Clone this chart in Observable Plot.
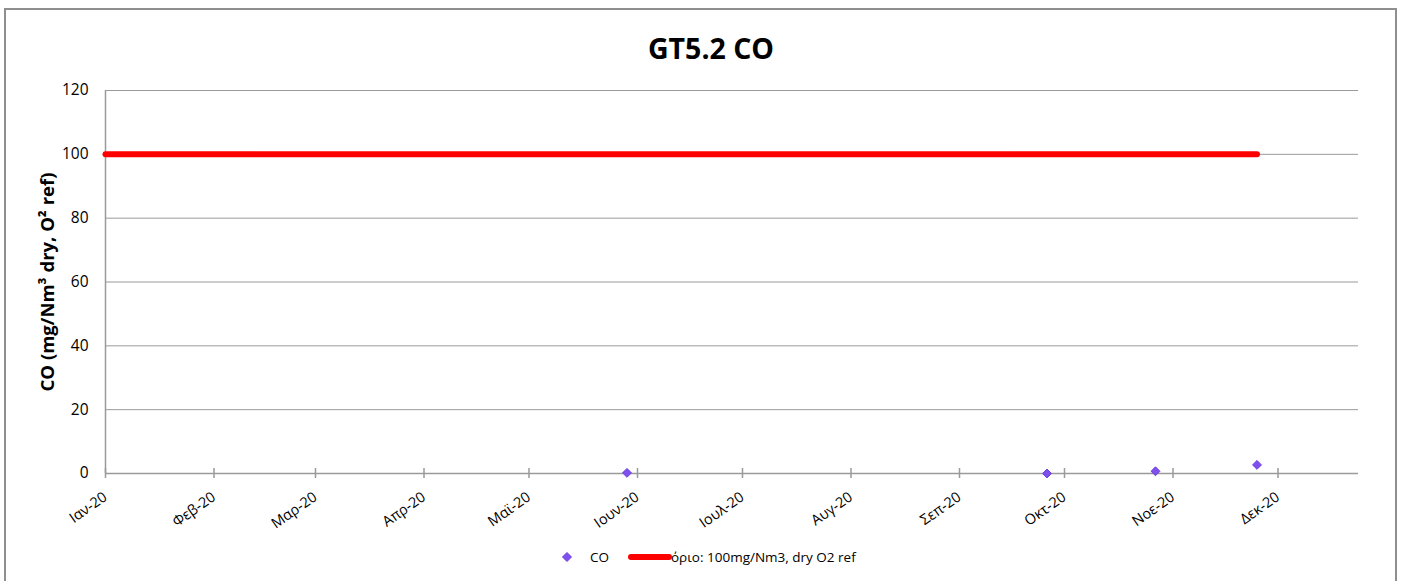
<!DOCTYPE html>
<html>
<head>
<meta charset="utf-8">
<script src="https://cdn.jsdelivr.net/npm/d3@7"></script>
<script src="https://cdn.jsdelivr.net/npm/@observablehq/plot@0.6"></script>
<style>
  html, body { margin: 0; padding: 0; background: #fff; }
  body { width: 1402px; height: 581px; position: relative; overflow: hidden; font-family: "Open Sans", sans-serif; }
  #frame { position: absolute; left: 4px; top: 8px; width: 1393px; height: 620px; border: 2px solid #8f8f8f; box-sizing: border-box; }
  #title { position: absolute; left: 10px; width: 1402px; top: 28px; text-align: center; font-size: 28.5px; font-weight: bold; color: #000; line-height: 40px; }
  #chart { position: absolute; left: 0; top: 70px; }
  #legend { position: absolute; top: 547px; left: 0; width: 1402px; height: 20px; font-size: 13.5px; color: #000; }
  #legend .item { position: absolute; top: 0; line-height: 20px; white-space: nowrap; }
</style>
</head>
<body>
<div id="frame"></div>
<div id="title">GT5.2 CO</div>
<div id="chart"></div>
<div id="legend">
  <svg class="item" style="left:561px; top:4px" width="12" height="12"><path d="M6,1.5L10.5,6L6,10.5L1.5,6Z" fill="#7f4ff0" stroke="#6b3fd9" stroke-width="1"/></svg>
  <span class="item" style="left:590px">CO</span>
  <svg class="item" style="left:628px; top:6px" width="44" height="8"><line x1="3" y1="4" x2="41" y2="4" stroke="#ff0000" stroke-width="6" stroke-linecap="round"/></svg>
  <span class="item" style="left:671px">όριο: 100mg/Nm3, dry O2 ref</span>
</div>
<script>
// ---- data ----
const monthLabels = ["Ιαν-20","Φεβ-20","Μαρ-20","Απρ-20","Μαϊ-20","Ιουν-20","Ιουλ-20","Αυγ-20","Σεπ-20","Οκτ-20","Νοε-20","Δεκ-20"];
const tickDateStrings = ["2020-01-01","2020-02-01","2020-03-01","2020-04-01","2020-05-01","2020-06-01","2020-07-01","2020-08-01","2020-09-01","2020-10-01","2020-11-01","2020-12-01"];
const coDates = ["2020-05-29","2020-09-26","2020-10-27","2020-11-25"];
const coValues = [0.2, 0, 0.7, 2.7];
const limitDates = ["2020-01-01","2020-11-25"];
const limitValues = [100, 100];
const yTicks = [0, 20, 40, 60, 80, 100, 120];
const xDomainStrings = ["2020-01-01","2020-12-24"];
const yLabel = "CO (mg/Nm³ dry, O² ref)";

const parse = s => new Date(s + "T00:00:00Z");
const tickDates = tickDateStrings.map(parse);
const co = coDates.map((d, i) => ({date: parse(d), value: coValues[i]}));
const limit = limitDates.map((d, i) => ({date: parse(d), value: limitValues[i]}));
const gridColor = "#9a9a9a";

const chart = Plot.plot({
  width: 1402,
  height: 470,
  marginLeft: 105,
  marginRight: 44,
  marginTop: 20,
  marginBottom: 67,
  style: {fontFamily: "'Open Sans', sans-serif", fontSize: "15px", color: "#000", background: "transparent"},
  x: {type: "utc", domain: xDomainStrings.map(parse)},
  y: {domain: [0, 120]},
  marks: [
    Plot.gridY(yTicks, {stroke: gridColor, strokeOpacity: 1, strokeWidth: 1}),
    Plot.ruleX([parse(xDomainStrings[0])], {stroke: gridColor, strokeWidth: 1.5}),
    Plot.ruleY([0], {stroke: gridColor, strokeWidth: 1.5}),
    Plot.axisY(yTicks, {tickSize: 0, tickPadding: 17, fontSize: 15.5, label: yLabel, labelAnchor: "center", labelArrow: "none", labelOffset: 65}),
    Plot.axisX(tickDates, {tickSize: 10, dy: -5, stroke: gridColor, strokeWidth: 1.5, tickFormat: () => "", label: null}),
    Plot.axisX(tickDates, {tickSize: 0, tickPadding: 22, tickRotate: -35, fontSize: 14.5, tickFormat: d => monthLabels[d.getUTCMonth()], label: null}),
    Plot.line(limit, {x: "date", y: "value", stroke: "#ff0000", strokeWidth: 6, strokeLinecap: "round"}),
    Plot.dot(co, {x: "date", y: "value", symbol: "diamond2", r: 4, fill: "#7f4ff0", stroke: "#6b3fd9", strokeWidth: 1})
  ]
});
document.getElementById("chart").appendChild(chart);
d3.select(chart).selectAll('g[aria-label="y-axis label"] text')
  .attr("font-weight", "bold").attr("font-size", 18.5);
</script>
</body>
</html>
